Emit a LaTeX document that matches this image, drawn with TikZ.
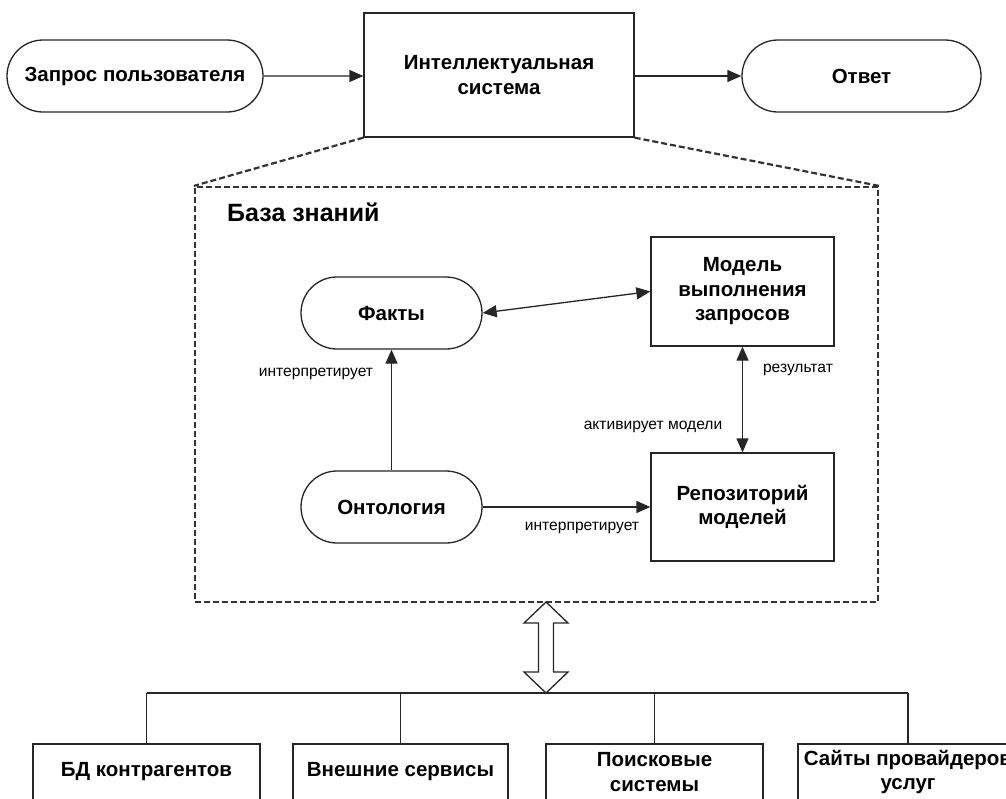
\documentclass[tikz,border=0pt]{standalone}
\usepackage{fontspec}
\setmainfont{Liberation Sans}
\usetikzlibrary{arrows.meta,shapes.misc}
\begin{document}
\begin{tikzpicture}[x=1pt,y=-1pt,
  every node/.style={inner sep=0pt, align=center},
  ln/.style={line width=1.3pt, draw=black!85},
  stad/.style={ln, rounded rectangle, font=\bfseries\fontsize{20.5}{24.5}\selectfont},
  sbox/.style={ln, rectangle, font=\bfseries\fontsize{20.5}{24.5}\selectfont},
  lbl/.style={font=\fontsize{15.6}{18}\selectfont},
  arr/.style={ln, -{Triangle[length=14pt,width=12pt]}},
  darr/.style={ln, {Triangle[length=14pt,width=12pt]}-{Triangle[length=14pt,width=12pt]}},
  dsh/.style={line width=2.2pt, draw=black!80, dash pattern=on 6pt off 3pt},
]
\useasboundingbox[fill=white] (0,0) rectangle (1006,798);
% top row
\node[stad, minimum width=256, minimum height=72] (zapros) at (135,76) {Запрос пользователя};
\node[sbox, minimum width=270, minimum height=124] (intel) at (499,75) {Интеллектуальная\\система};
\node[stad, minimum width=239, minimum height=72] (otvet) at (861.5,76) {Ответ};
\draw[arr] (zapros) -- (zapros -| intel.west);
\draw[arr] (otvet -| intel.east) -- (otvet);
% knowledge base
\node[dsh, rectangle, minimum width=683, minimum height=415] (kb) at (536.5,394.5) {};
\draw[dsh] (intel.south west) -- (kb.north west);
\draw[dsh] (intel.south east) -- (kb.north east);
\node[font=\bfseries\fontsize{25}{30}\selectfont, anchor=west] (kbt) at (227,212) {База знаний};
\node[stad, minimum width=181, minimum height=72] (fakty) at (391.5,313) {Факты};
\node[sbox, minimum width=183, minimum height=109] (model) at (742.5,291.5) {Модель\\выполнения\\запросов};
\node[stad, minimum width=181, minimum height=72] (onto) at (391.5,507) {Онтология};
\node[sbox, minimum width=183, minimum height=108] (repo) at (742.5,507) {Репозиторий\\моделей};
\draw[darr] (fakty.east) -- (model.west);
\draw[darr] (model.south) -- (repo.north);
\draw[arr] (onto.north) -- (fakty.south);
\draw[arr] (onto.east) -- (repo.west);
\node[lbl] (l1) at (316,374) {интерпретирует};
\node[lbl] (l2) at (798,370) {результат};
\node[lbl] (l3) at (653,427) {активирует модели};
\node[lbl] (l4) at (582,528) {интерпретирует};
% big double arrow
\coordinate (ba) at (546,602);
\coordinate (bb) at (546,693);
\draw[ln, fill=white] (ba) -- ++(22,21) -- ++(-14.5,0) -- ++(0,49) -- ++(14.5,0) -- (bb)
  -- ++(-22,-21) -- ++(14.5,0) -- ++(0,-49) -- ++(-14.5,0) -- cycle;
% bottom boxes
\node[sbox, minimum width=227, minimum height=56] (b1) at (146.5,772) {БД контрагентов};
\node[sbox, minimum width=215, minimum height=56] (b2) at (400.5,772) {Внешние сервисы};
\node[sbox, minimum width=217, minimum height=56] (b3) at (654.5,772) {Поисковые\\системы};
\node[sbox, minimum width=220, minimum height=56] (b4) at (908,772) {Сайты провайдеров\\услуг};
\draw[ln] (b1.north |- bb) -- (b4.north |- bb);
\foreach \b in {b1,b2,b3,b4} \draw[ln] (\b.north |- bb) -- (\b.north);
\end{tikzpicture}
\end{document}
